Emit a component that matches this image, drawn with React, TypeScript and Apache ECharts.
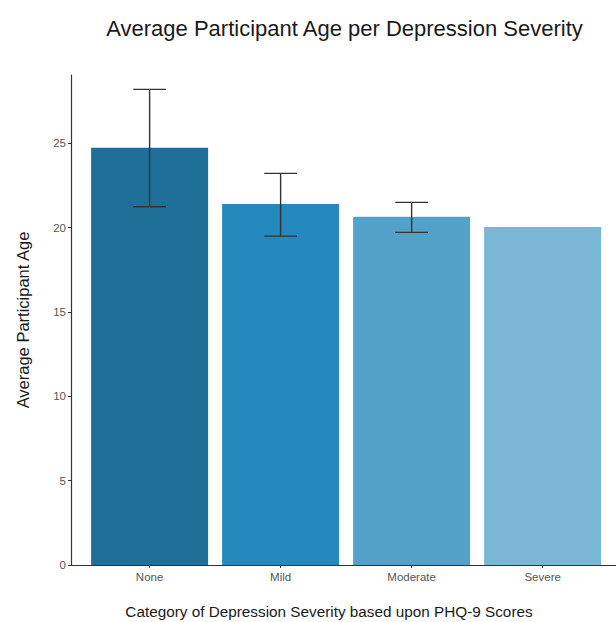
import React, { useEffect, useRef } from "react";
import * as echarts from "echarts";

const categories = ["None", "Mild", "Moderate", "Severe"];
const meanAge = [24.74, 21.4, 20.65, 20.04];
const errLow = [21.24, 19.5, 19.72, 20.04];
const errHigh = [28.2, 23.22, 21.5, 20.04];
const barColors = ["#1e7098", "#2589bd", "#53a1c9", "#7ab6d6"];
const yTicks = [0, 5, 10, 15, 20, 25];

export default function App() {
  const ref = useRef<HTMLDivElement>(null);

  useEffect(() => {
    if (!ref.current) return;
    const chart = echarts.init(ref.current, null, { renderer: "svg" });
    const font = "Liberation Sans, Arial, sans-serif";
    const xIdx = categories.map((_, i) => i);

    chart.setOption({
      animation: false,
      backgroundColor: "#ffffff",
      graphic: [
        {
          type: "text",
          x: 344.5,
          y: 28,
          style: {
            text: "Average Participant Age per Depression Severity",
            fontFamily: font,
            fontSize: 22,
            fill: "#1a1a1a",
            align: "center",
            verticalAlign: "middle",
          },
        },
        {
          type: "text",
          x: 329,
          y: 611,
          style: {
            text: "Category of Depression Severity based upon PHQ-9 Scores",
            fontFamily: font,
            fontSize: 15.3,
            fill: "#1a1a1a",
            align: "center",
            verticalAlign: "middle",
          },
        },
      ],
      grid: { left: 71, right: 0, top: 75, bottom: 57 },
      xAxis: {
        type: "value",
        min: -0.6,
        max: 3.56,
        axisLine: { show: true, onZero: false, lineStyle: { color: "#333333", width: 1.2 } },
        axisTick: { show: true, length: 3, customValues: xIdx, lineStyle: { color: "#333333" } },
        axisLabel: {
          customValues: xIdx,
          formatter: (v: number) => categories[Math.round(v)] ?? "",
          fontFamily: font,
          fontSize: 11.5,
          color: "#555555",
          margin: 6,
        },
        splitLine: { show: false },
      },
      yAxis: {
        type: "value",
        min: 0,
        max: 29.05,
        name: "Average Participant Age",
        nameLocation: "middle",
        nameGap: 40,
        nameTextStyle: { fontFamily: font, fontSize: 16.5, color: "#1a1a1a" },
        axisLine: { show: true, onZero: false, lineStyle: { color: "#333333", width: 1.2 } },
        axisTick: { show: true, length: 3, customValues: yTicks, lineStyle: { color: "#333333" } },
        axisLabel: {
          customValues: yTicks,
          fontFamily: font,
          fontSize: 11.5,
          color: "#555555",
          margin: 5,
        },
        splitLine: { show: false },
      },
      series: [
        {
          type: "bar",
          barWidth: 117,
          data: meanAge.map((v, i) => ({ value: [i, v], itemStyle: { color: barColors[i] } })),
        },
        {
          type: "custom",
          z: 5,
          data: categories.map((_, i) => [i, errLow[i], errHigh[i]]),
          renderItem: (_params: any, api: any) => {
            const x = api.value(0);
            // a single-observation group has no spread, so no whiskers are drawn
            if (api.value(2) - api.value(1) <= 0) return { type: "group", children: [] };
            const lo = api.coord([x, api.value(1)]);
            const hi = api.coord([x, api.value(2)]);
            const half = api.size([0.25, 0])[0] / 2;
            const style = { stroke: "#333333", lineWidth: 1.4 };
            return {
              type: "group",
              children: [
                { type: "line", shape: { x1: hi[0], y1: hi[1], x2: lo[0], y2: lo[1] }, style },
                { type: "line", shape: { x1: hi[0] - half, y1: hi[1], x2: hi[0] + half, y2: hi[1] }, style },
                { type: "line", shape: { x1: lo[0] - half, y1: lo[1], x2: lo[0] + half, y2: lo[1] }, style },
              ],
            };
          },
        },
      ],
    });

    return () => chart.dispose();
  }, []);

  return (
    <div
      ref={ref}
      style={{ position: "absolute", left: 0, top: 0, width: 616, height: 622 }}
    />
  );
}
